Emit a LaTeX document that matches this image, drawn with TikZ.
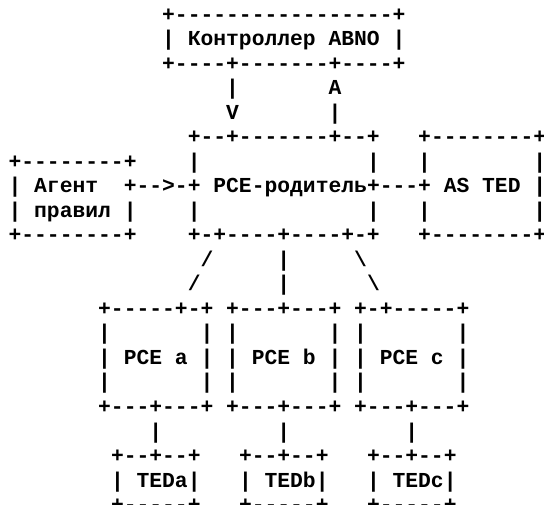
\documentclass[tikz,border=0pt]{standalone}
\usepackage{fontspec}
\setmonofont{Liberation Mono}
% one monospaced text piece, placed on a character grid:
% column c starts at 8.6 + 12.8c, row r has its baseline at 482.5 - 24.5r
\newcommand\seg[4]{\node[asc] (#1) at ({8.6+12.8*#2},{482.5-24.5*#3}) {#4};}
\begin{document}
\begin{tikzpicture}[x=1pt,y=1pt,
  asc/.style={anchor=base west, inner sep=0pt, outer sep=0pt,
    font=\ttfamily\bfseries\fontsize{21.33}{24.5}\selectfont}]
\useasboundingbox (0,0) rectangle (544,504);
\fill[white] (0,0) rectangle (544,504);
% ABNO controller
\seg{ctlTop}{12}{0}{+-----------------+}
\seg{ctlMid}{12}{1}{| Контроллер ABNO |}
\seg{ctlBot}{12}{2}{+----+-------+----+}
% controller <-> parent PCE
\seg{downA}{17}{3}{|}
\seg{upA}{25}{3}{A}
\seg{downB}{17}{4}{V}
\seg{upB}{25}{4}{|}
% parent PCE and AS TED, top rows
\seg{parTop}{14}{5}{+--+-------+--+}
\seg{tedTop}{32}{5}{+--------+}
\seg{agTop}{0}{6}{+--------+}
\seg{parL1}{14}{6}{|}
\seg{parR1}{28}{6}{|}
\seg{tedL1}{32}{6}{|}
\seg{tedR1}{41}{6}{|}
% middle row: policy agent -> parent PCE -- AS TED
\seg{agMid}{0}{7}{| Агент}
\seg{agLink}{9}{7}{+-->-+}
\seg{parMid}{16}{7}{PCE-родитель}
\seg{tedLink}{28}{7}{+---+}
\seg{tedMid}{34}{7}{AS TED}
\seg{tedR2}{41}{7}{|}
\seg{agLow}{0}{8}{| правил |}
\seg{parL3}{14}{8}{|}
\seg{parR3}{28}{8}{|}
\seg{tedL3}{32}{8}{|}
\seg{tedR3}{41}{8}{|}
\seg{agBot}{0}{9}{+--------+}
\seg{parBot}{14}{9}{+-+----+----+-+}
\seg{tedBot}{32}{9}{+--------+}
% branches to child PCEs
\seg{brA1}{15}{10}{/}
\seg{brB1}{21}{10}{|}
\seg{brC1}{27}{10}{\textbackslash}
\seg{brA2}{14}{11}{/}
\seg{brB2}{21}{11}{|}
\seg{brC2}{28}{11}{\textbackslash}
% child PCEs
\seg{pceTop}{7}{12}{+-----+-+ +---+---+ +-+-----+}
\seg{pceR1}{7}{13}{|~~~~~~~| |~~~~~~~| |~~~~~~~|}
\seg{pceMid}{7}{14}{| PCE a | | PCE b | | PCE c |}
\seg{pceR3}{7}{15}{|~~~~~~~| |~~~~~~~| |~~~~~~~|}
\seg{pceBot}{7}{16}{+---+---+ +---+---+ +---+---+}
% links to TEDs
\seg{lnA}{11}{17}{|}
\seg{lnB}{21}{17}{|}
\seg{lnC}{31}{17}{|}
% TEDs
\seg{tedaTop}{8}{18}{+--+--+}
\seg{tedbTop}{18}{18}{+--+--+}
\seg{tedcTop}{28}{18}{+--+--+}
\seg{tedaMid}{8}{19}{| TEDa|}
\seg{tedbMid}{18}{19}{| TEDb|}
\seg{tedcMid}{28}{19}{| TEDc|}
\seg{tedaBot}{8}{20}{+-----+}
\seg{tedbBot}{18}{20}{+-----+}
\seg{tedcBot}{28}{20}{+-----+}
\end{tikzpicture}
\end{document}
